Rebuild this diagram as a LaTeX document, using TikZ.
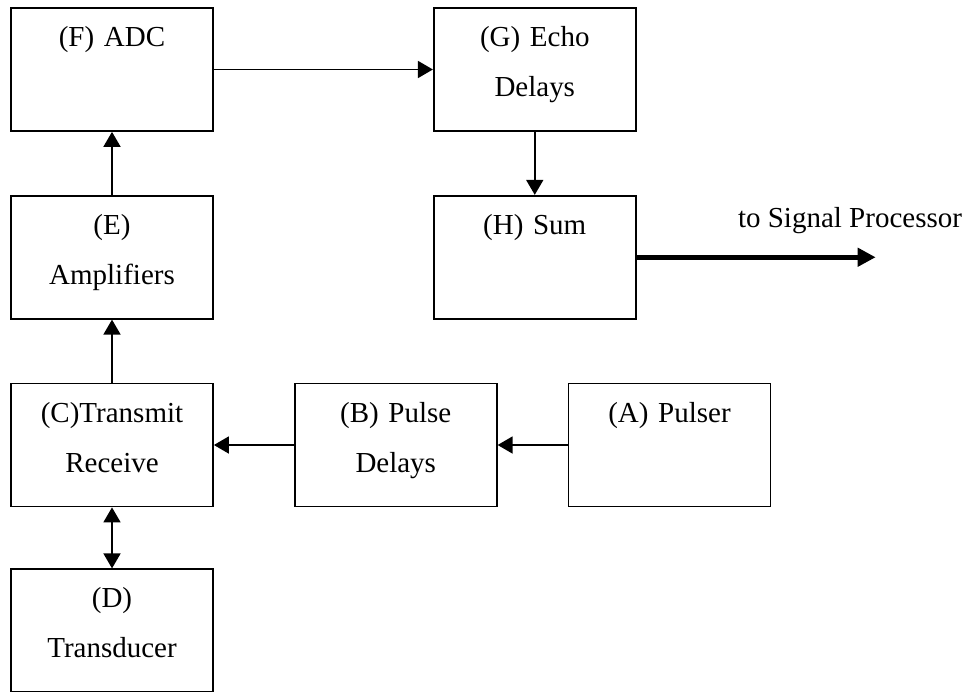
\documentclass[tikz,border=0pt]{standalone}
\usepackage{fontspec}
\setmainfont{Liberation Serif}
\usepackage{tikz}
\usetikzlibrary{arrows.meta,positioning,calc}
\tikzset{
  blk/.style={draw=black,line width=1pt,inner xsep=0pt,inner ysep=0pt,
    text width=4.04cm,align=center,text height=0.77cm,text depth=1.69cm,
    font=\fontsize{16.5}{28.5}\selectfont},
  sarrow/.style={-{Triangle[length=3mm,width=3.4mm]},line width=1pt},
  barrow/.style={{Triangle[length=3mm,width=3.4mm]}-{Triangle[length=3mm,width=3.4mm]},line width=1pt},
  thickarrow/.style={-{Triangle[length=3.6mm,width=3.6mm]},line width=2.8pt},
  slabel/.style={font=\fontsize{16.5}{20}\selectfont,inner sep=0pt}
}
\begin{document}
\begin{tikzpicture}[x=1cm,y=1cm]
  \useasboundingbox (0,0) rectangle (19.32,-13.84);

  % left column
  \node[blk] (adc) at (2.24,-1.39) {(F) ADC};
  \node[blk,below=1.26cm of adc] (amp) {(E)\\Amplifiers};
  \node[blk,below=1.26cm of amp] (trx) {(C)Transmit\\Receive};
  \node[blk,below=1.22cm of trx] (xdcr) {(D)\\Transducer};

  % pulse chain
  \node[blk,right=1.6cm of trx] (pdelay) {(B) Pulse\\Delays};
  \node[blk,right=1.4cm of pdelay] (pulser) {(A) Pulser};

  % receive chain
  \node[blk,right=4.38cm of adc] (edelay) {(G) Echo\\Delays};
  \node[blk,below=1.26cm of edelay] (sum) {(H) Sum};

  \coordinate (sigout) at ($(sum.east)+(4.78,0)$);
  \node[slabel,anchor=base] (tosp) at (17.0,-4.56) {to Signal Processor};

  \draw[sarrow] (pulser) -- (pdelay);
  \draw[sarrow] (pdelay) -- (trx);
  \draw[barrow] (trx) -- (xdcr);
  \draw[sarrow] (trx) -- (amp);
  \draw[sarrow] (amp) -- (adc);
  \draw[sarrow] (adc) -- (edelay);
  \draw[sarrow] (edelay) -- (sum);
  \draw[thickarrow] (sum.east) -- (sigout);
\end{tikzpicture}
\end{document}
